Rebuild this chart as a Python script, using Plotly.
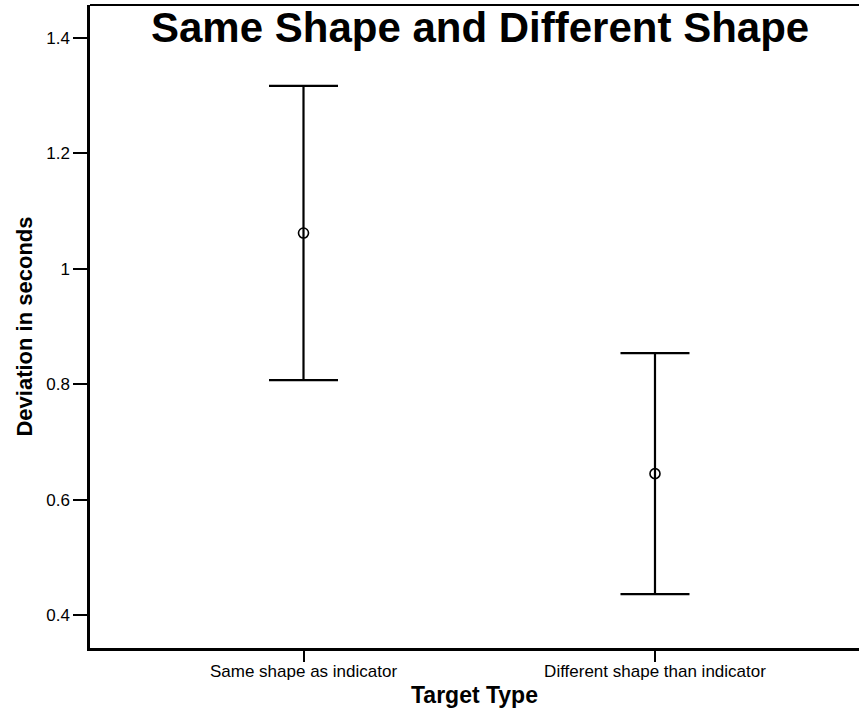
import plotly.graph_objects as go

# Mean deviation per target type with symmetric error bars
categories = ["Same shape as indicator", "Different shape than indicator"]
means = [1.062, 0.645]
errors = [0.255, 0.209]
y_ticks = [0.4, 0.6, 0.8, 1.0, 1.2, 1.4]
y_tick_labels = ["0.4", "0.6", "0.8", "1", "1.2", "1.4"]

FONT = "Liberation Sans, Arial, sans-serif"

fig = go.Figure()
fig.add_trace(go.Scatter(
    x=categories,
    y=means,
    mode="markers",
    marker=dict(symbol="circle-open", size=10, color="black",
                line=dict(color="black", width=1.6)),
    error_y=dict(type="data", array=errors, symmetric=True,
                 color="black", thickness=2.2, width=34.5),
    showlegend=False,
    hoverinfo="skip",
))

fig.update_layout(
    width=859,
    height=713,
    margin=dict(l=90, r=0, t=5, b=65),
    paper_bgcolor="white",
    plot_bgcolor="white",
    font=dict(family=FONT, color="black"),
    xaxis=dict(
        type="category",
        range=[-0.6074, 1.5804],
        showgrid=False,
        zeroline=False,
        showline=True,
        linecolor="black",
        linewidth=2.5,
        ticks="outside",
        ticklen=11,
        tickwidth=1.5,
        tickcolor="black",
        ticklabelstandoff=-5,
        tickfont=dict(size=17, family=FONT, color="black"),
        title=dict(text="<b>Target Type</b>", font=dict(size=23, family=FONT, color="black"),
                   standoff=7),
    ),
    yaxis=dict(
        range=[0.3428, 1.4572],
        tickvals=y_ticks,
        ticktext=y_tick_labels,
        showgrid=False,
        zeroline=False,
        showline=True,
        linecolor="black",
        linewidth=2.5,
        ticks="outside",
        ticklen=14,
        tickwidth=1.5,
        tickcolor="black",
        tickfont=dict(size=17, family=FONT, color="black"),
        title=dict(text="<b>Deviation in seconds</b>", font=dict(size=22, family=FONT, color="black"),
                   standoff=8),
    ),
    shapes=[dict(type="line", xref="paper", yref="paper", x0=0, x1=1, y0=1, y1=1,
                 line=dict(color="black", width=2))],
    annotations=[dict(
        text="<b>Same Shape and Different Shape</b>",
        xref="paper", yref="paper", x=0.5078, y=0.965,
        xanchor="center", yanchor="middle", showarrow=False,
        font=dict(size=42, family=FONT, color="black"),
    )],
)

fig.write_html("out.html")
